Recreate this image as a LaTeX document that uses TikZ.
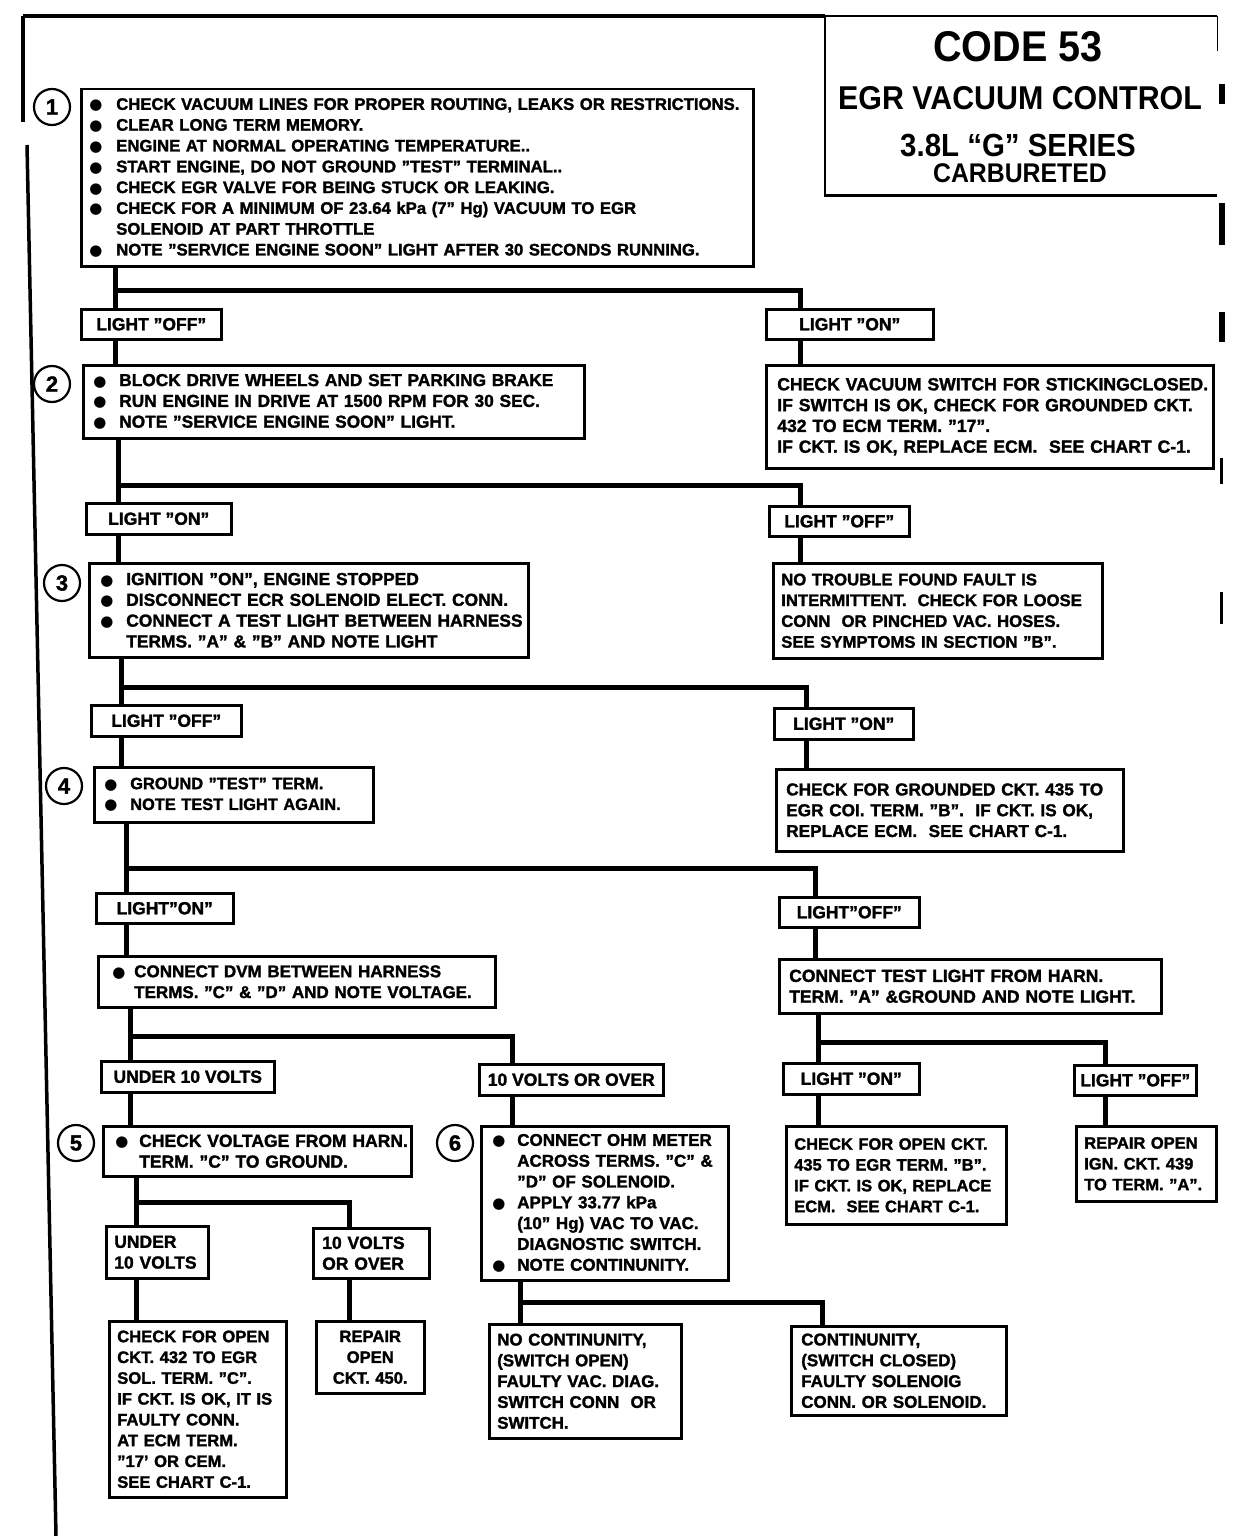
\documentclass[tikz,border=0pt]{standalone}
\usepackage{fontspec}
\setmainfont{Liberation Sans}[BoldFeatures={FakeBold=1.6}]
\newfontfamily\titlefont{Liberation Sans}[FakeStretch=0.92]
\newfontfamily\dvfont{DejaVu Sans}
\newcommand\myfs[1]{\fontsize{#1}{20.8}\selectfont}
\newcommand\ML[1]{\mbox{#1}}
\newcommand\bu[1]{\makebox[#1][l]{{\dvfont\fontsize{15}{15}\selectfont ●}}}
\tikzset{
  box/.style={draw, line width=2.5pt, anchor=north west, align=left, inner ysep=0pt, font=\bfseries\myfs{17}},
  lab/.style={draw, line width=2.5pt, anchor=north west, align=center, inner sep=0pt, font=\bfseries\myfs{17.5}},
  conn/.style={line width=5pt},
  circ/.style={circle, draw, line width=2.2pt, minimum size=36pt, inner sep=0pt, font=\bfseries\fontsize{22}{22}\selectfont},
  frame/.style={line width=3.5pt},
  ttl/.style={anchor=base, inner sep=0pt, font=\titlefont\bfseries}
}
\begin{document}
\begin{tikzpicture}[x=1pt,y=-1pt]
\useasboundingbox (0,0) rectangle (1232,1536);
\fill[white] (0,0) rectangle (1232,1536);

% frame lines
\draw[frame] (23,16) -- (23,122);
\draw[frame] (27,145) -- (56,1536);
\draw[frame] (23,16) -- (825,16);

% title box
\node[anchor=north west, minimum width=392pt, minimum height=179pt, inner sep=0pt] (title) at (825,16) {};
\draw[line width=2.2pt] (title.north east) -- (title.north west) -- (title.south west) -- (title.south east);
\draw[line width=1.2pt] (title.north east) -- ([yshift=-35pt]title.north east);
\node[ttl, font=\titlefont\bfseries\fontsize{43}{43}\selectfont] (t1) at (1018,62) {CODE 53};
\node[ttl, font=\titlefont\bfseries\fontsize{33}{33}\selectfont] (t2) at (1020,110) {EGR VACUUM CONTROL};
\node[ttl, font=\titlefont\bfseries\fontsize{32}{32}\selectfont] (t3) at (1018,157) {3.8L “G” SERIES};
\node[ttl, font=\titlefont\bfseries\fontsize{27}{27}\selectfont] (t4) at (1020,182) {CARBURETED};

% scan marks at right edge
\fill (1219,84) rectangle (1225,104);
\fill (1219,203) rectangle (1225,245);
\fill (1219,312) rectangle (1225,342);
\fill (1220,458) rectangle (1223,484);
\fill (1220,592) rectangle (1223,624);

% step circles
\node[circ] (c1) at (52,107) {1};
\node[circ] (c2) at (52,384) {2};
\node[circ] (c3) at (62,583) {3};
\node[circ] (c4) at (64,786) {4};
\node[circ] (c5) at (76,1143) {5};
\node[circ] (c6) at (455,1143) {6};

% level 1
\node[box, text width=656pt, minimum height=177pt, inner xsep=8pt, font=\bfseries\myfs{16.7}] (b1) at (80,88) {%
\ML{\bu{27pt}CHECK VACUUM LINES FOR PROPER ROUTING, LEAKS OR RESTRICTIONS.}\\
\ML{\bu{27pt}CLEAR LONG TERM MEMORY.}\\
\ML{\bu{27pt}ENGINE AT NORMAL OPERATING TEMPERATURE..}\\
\ML{\bu{27pt}START ENGINE, DO NOT GROUND "TEST" TERMINAL..}\\
\ML{\bu{27pt}CHECK EGR VALVE FOR BEING STUCK OR LEAKING.}\\
\ML{\bu{27pt}CHECK FOR A MINIMUM OF 23.64 kPa (7" Hg) VACUUM TO EGR}\\
\ML{\hspace*{27pt}SOLENOID AT PART THROTTLE}\\
\ML{\bu{27pt}NOTE "SERVICE ENGINE SOON" LIGHT AFTER 30 SECONDS RUNNING.}};

\node[lab, minimum width=140pt, minimum height=30pt] (l1L) at (80,308) {LIGHT "OFF"};
\node[lab, minimum width=167pt, minimum height=30pt] (l1R) at (765,308) {LIGHT "ON"};

\node[box, text width=481pt, minimum height=73pt, inner xsep=10pt, font=\bfseries\myfs{17.3}] (b2) at (82,364) {%
\ML{\bu{26pt}BLOCK DRIVE WHEELS AND SET PARKING BRAKE}\\
\ML{\bu{26pt}RUN ENGINE IN DRIVE AT 1500 RPM FOR 30 SEC.}\\
\ML{\bu{26pt}NOTE "SERVICE ENGINE SOON" LIGHT.}};

\node[box, text width=425pt, minimum height=103pt, inner xsep=11pt, font=\bfseries\myfs{17.6}] (r1) at (765,364) {%
\ML{CHECK VACUUM SWITCH FOR STICKINGCLOSED.}\\
\ML{IF SWITCH IS OK, CHECK FOR GROUNDED CKT.}\\
\ML{432 TO ECM TERM. "17".}\\
\ML{IF CKT. IS OK, REPLACE ECM.\ \ SEE CHART C-1.}};

% level 2
\node[lab, minimum width=145pt, minimum height=31pt] (l2L) at (85,502) {LIGHT "ON"};
\node[lab, minimum width=140pt, minimum height=30pt] (l2R) at (768,505) {LIGHT "OFF"};

\node[box, text width=417pt, minimum height=94pt, inner xsep=11pt, font=\bfseries\myfs{17.4}] (b3) at (88,562) {%
\ML{\bu{26pt}IGNITION "ON", ENGINE STOPPED}\\
\ML{\bu{26pt}DISCONNECT ECR SOLENOID ELECT. CONN.}\\
\ML{\bu{26pt}CONNECT A TEST LIGHT BETWEEN HARNESS}\\
\ML{\hspace*{26pt}TERMS. "A" \& "B" AND NOTE LIGHT}};

\node[box, text width=313pt, minimum height=95pt, inner xsep=8pt, font=\bfseries\myfs{16.7}] (r2) at (772,562) {%
\ML{NO TROUBLE FOUND FAULT IS}\\
\ML{INTERMITTENT.\ \ CHECK FOR LOOSE}\\
\ML{CONN\ \ OR PINCHED VAC. HOSES.}\\
\ML{SEE SYMPTOMS IN SECTION "B".}};

% level 3
\node[lab, minimum width=150pt, minimum height=31pt] (l3L) at (90,704) {LIGHT "OFF"};
\node[lab, minimum width=139pt, minimum height=31pt] (l3R) at (773,707) {LIGHT "ON"};

\node[box, text width=259pt, minimum height=55pt, inner xsep=10pt, font=\bfseries\myfs{16.4}] (b4) at (93,766) {%
\ML{\bu{26pt}GROUND "TEST" TERM.}\\
\ML{\bu{26pt}NOTE TEST LIGHT AGAIN.}};

\node[box, text width=327pt, minimum height=82pt, inner xsep=10pt, font=\bfseries\myfs{17.2}] (r3) at (775,768) {%
\ML{CHECK FOR GROUNDED CKT. 435 TO}\\
\ML{EGR COI. TERM. "B".\ \ IF CKT. IS OK,}\\
\ML{REPLACE ECM.\ \ SEE CHART C-1.}};

% level 4
\node[lab, minimum width=137pt, minimum height=30pt] (l4L) at (95,892) {LIGHT"ON"};
\node[lab, minimum width=140pt, minimum height=30pt] (l4R) at (778,896) {LIGHT"OFF"};

\node[box, text width=369pt, minimum height=51pt, inner xsep=14pt, font=\bfseries\myfs{17}] (b5a) at (97,955) {%
\ML{\bu{22pt}CONNECT DVM BETWEEN HARNESS}\\
\ML{\hspace*{22pt}TERMS. "C" \& "D" AND NOTE VOLTAGE.}};

\node[box, text width=362pt, minimum height=54pt, inner xsep=10pt, font=\bfseries\myfs{17.5}] (r4) at (778,958) {%
\ML{CONNECT TEST LIGHT FROM HARN.}\\
\ML{TERM. "A" \&GROUND AND NOTE LIGHT.}};

% level 5
\node[lab, minimum width=173pt, minimum height=31pt] (u1) at (100,1060) {UNDER 10 VOLTS};
\node[lab, minimum width=184pt, minimum height=31pt] (o1) at (478,1063) {10 VOLTS OR OVER};
\node[lab, minimum width=136pt, minimum height=31pt] (l5L) at (782,1062) {LIGHT "ON"};
\node[lab, minimum width=122pt, minimum height=30pt] (l5R) at (1073,1064) {LIGHT "OFF"};

\node[box, text width=284pt, minimum height=50pt, inner xsep=12pt, font=\bfseries\myfs{17.5}] (b5) at (102,1125) {%
\ML{\bu{24pt}CHECK VOLTAGE FROM HARN.}\\
\ML{\hspace*{24pt}TERM. "C" TO GROUND.}};

\node[box, text width=225pt, minimum height=154pt, inner xsep=11pt, font=\bfseries\myfs{17}] (b6) at (480,1125) {%
\ML{\bu{25pt}CONNECT OHM METER}\\
\ML{\hspace*{25pt}ACROSS TERMS. "C" \&}\\
\ML{\hspace*{25pt}"D" OF SOLENOID.}\\
\ML{\bu{25pt}APPLY 33.77 kPa}\\
\ML{\hspace*{25pt}(10" Hg) VAC TO VAC.}\\
\ML{\hspace*{25pt}DIAGNOSTIC SWITCH.}\\
\ML{\bu{25pt}NOTE CONTINUNITY.}};

\node[box, text width=204pt, minimum height=98pt, inner xsep=8pt, font=\bfseries\myfs{16.5}] (r5) at (785,1125) {%
\ML{CHECK FOR OPEN CKT.}\\
\ML{435 TO EGR TERM. "B".}\\
\ML{IF CKT. IS OK, REPLACE}\\
\ML{ECM.\ \ SEE CHART C-1.}};

\node[box, text width=124pt, minimum height=75pt, inner xsep=8pt, font=\bfseries\myfs{16.5}] (r6) at (1075,1125) {%
\ML{REPAIR OPEN}\\
\ML{IGN. CKT. 439}\\
\ML{TO TERM. "A".}};

% level 6
\node[lab, align=left, text width=86pt, minimum height=52pt, inner xsep=8pt, font=\bfseries\myfs{17.5}] (u2) at (105,1225) {UNDER\\10 VOLTS};
\node[lab, align=left, text width=98pt, minimum height=50pt, inner xsep=9pt, font=\bfseries\myfs{17.5}] (o2) at (312,1227) {10 VOLTS\\OR OVER};

\node[box, text width=161pt, minimum height=176pt, inner xsep=8pt, font=\bfseries\myfs{16.6}] (f1) at (108,1320) {%
\ML{CHECK FOR OPEN}\\
\ML{CKT. 432 TO EGR}\\
\ML{SOL. TERM. "C".}\\
\ML{IF CKT. IS OK, IT IS}\\
\ML{FAULTY CONN.}\\
\ML{AT ECM TERM.}\\
\ML{"17' OR CEM.}\\
\ML{SEE CHART C-1.}};

\node[box, align=center, text width=92pt, minimum height=72pt, inner xsep=8pt, font=\bfseries\myfs{16.6}] (f2) at (315,1320) {%
REPAIR\\OPEN\\CKT. 450.};

\node[box, text width=176pt, minimum height=114pt, inner xsep=8pt, font=\bfseries\myfs{16.9}] (f3) at (488,1323) {%
\ML{NO CONTINUNITY,}\\
\ML{(SWITCH OPEN)}\\
\ML{FAULTY VAC. DIAG.}\\
\ML{SWITCH CONN\ \ OR}\\
\ML{SWITCH.}};

\node[box, text width=195pt, minimum height=89pt, inner xsep=10pt, font=\bfseries\myfs{17}] (f4) at (790,1325) {%
\ML{CONTINUNITY,}\\
\ML{(SWITCH CLOSED)}\\
\ML{FAULTY SOLENOIG}\\
\ML{CONN. OR SOLENOID.}};

% junction points
\coordinate (j1) at (115,290);  \coordinate (j1r) at (800,290);
\coordinate (j2) at (118,485);  \coordinate (j2r) at (800,485);
\coordinate (j3) at (121,687);  \coordinate (j3r) at (806,687);
\coordinate (j4) at (126,868);  \coordinate (j4r) at (815,868);
\coordinate (j5) at (130,1036); \coordinate (j5r) at (512,1036);
\coordinate (j6) at (818,1042); \coordinate (j6r) at (1105,1042);
\coordinate (j7) at (136,1202); \coordinate (j7r) at (349,1202);
\coordinate (j8) at (520,1302); \coordinate (j8r) at (822,1302);

% connectors
\draw[conn] (b1.south -| j1) -- (j1) -- (j1r) -- (j1r |- l1R.north);
\draw[conn] (j1) -- (j1 |- l1L.north);
\draw[conn] (l1L.south -| j1) -- (b2.north -| j1);
\draw[conn] (l1R.south -| j1r) -- (r1.north -| j1r);

\draw[conn] (b2.south -| j2) -- (j2) -- (j2r) -- (j2r |- l2R.north);
\draw[conn] (j2) -- (j2 |- l2L.north);
\draw[conn] (l2L.south -| j2) -- (b3.north -| j2);
\draw[conn] (l2R.south -| j2r) -- (r2.north -| j2r);

\draw[conn] (b3.south -| j3) -- (j3) -- (j3r) -- (j3r |- l3R.north);
\draw[conn] (j3) -- (j3 |- l3L.north);
\draw[conn] (l3L.south -| j3) -- (b4.north -| j3);
\draw[conn] (l3R.south -| j3r) -- (r3.north -| j3r);

\draw[conn] (b4.south -| j4) -- (j4) -- (j4r) -- (j4r |- l4R.north);
\draw[conn] (j4) -- (j4 |- l4L.north);
\draw[conn] (l4L.south -| j4) -- (b5a.north -| j4);
\draw[conn] (l4R.south -| j4r) -- (r4.north -| j4r);

\draw[conn] (b5a.south -| j5) -- (j5) -- (j5r) -- (j5r |- o1.north);
\draw[conn] (j5) -- (j5 |- u1.north);
\draw[conn] (u1.south -| j5) -- (b5.north -| j5);
\draw[conn] (o1.south -| j5r) -- (b6.north -| j5r);

\draw[conn] (r4.south -| j6) -- (j6) -- (j6r) -- (j6r |- l5R.north);
\draw[conn] (j6) -- (j6 |- l5L.north);
\draw[conn] (l5L.south -| j6) -- (r5.north -| j6);
\draw[conn] (l5R.south -| j6r) -- (r6.north -| j6r);

\draw[conn] (b5.south -| j7) -- (j7) -- (j7r) -- (j7r |- o2.north);
\draw[conn] (j7) -- (j7 |- u2.north);
\draw[conn] (u2.south -| j7) -- (f1.north -| j7);
\draw[conn] (o2.south -| j7r) -- (f2.north -| j7r);

\draw[conn] (b6.south -| j8) -- (j8) -- (j8r) -- (j8r |- f4.north);
\draw[conn] (j8) -- (j8 |- f3.north);
\end{tikzpicture}
\end{document}
